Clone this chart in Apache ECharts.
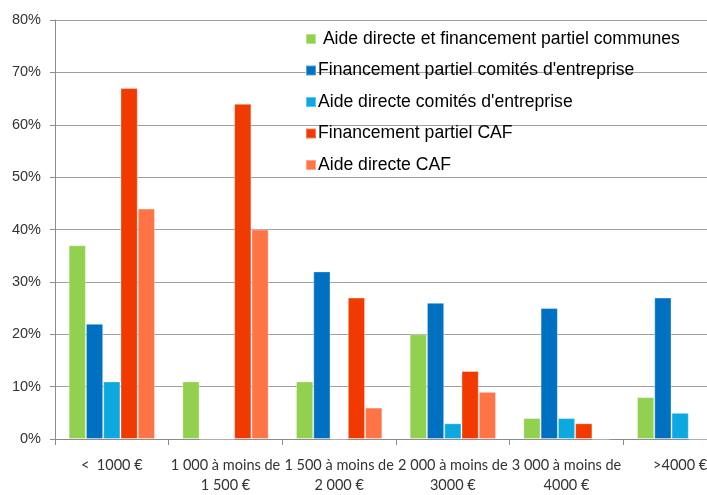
<!DOCTYPE html>
<html><head><meta charset="utf-8">
<script src="https://cdn.jsdelivr.net/npm/echarts@6/dist/echarts.min.js"></script>
<style>html,body{margin:0;padding:0;background:#fff;overflow:hidden}#c{width:737px;height:495px}</style>
</head><body><div id="c"></div>
<script>
const categories = ["<  1000 €", "1 000 à moins de\n1 500 €", "1 500 à moins de\n2 000 €", "2 000 à moins de\n3000 €", "3 000 à moins de\n4000 €", ">4000 €"];
const seriesNames = [" Aide directe et financement partiel communes", "Financement partiel comités d'entreprise", "Aide directe comités d'entreprise", "Financement partiel CAF", "Aide directe CAF"];
const communes = [37, 11, 11, 20, 4, 8];
const financementCE = [22, 0, 32, 26, 25, 27];
const aideCE = [11, 0, 0, 3, 4, 5];
const financementCAF = [67, 64, 27, 13, 3, 0];
const aideCAF = [44, 40, 6, 9, 0, 0];
const colors = ["#92D050", "#0070C0", "#0DA8E0", "#F03A00", "#FF7447"];
const values = [communes, financementCE, aideCE, financementCAF, aideCAF];

const chart = echarts.init(document.getElementById('c'));
chart.setOption({
  animation: false,
  color: colors,
  grid: {left: 55, width: 682, top: 20, height: 424, containLabel: false},
  legend: {
    orient: 'vertical', left: 300, top: 25, itemGap: 13.5,
    itemWidth: 10, itemHeight: 10, icon: 'rect',
    textStyle: {fontFamily: 'Liberation Sans', fontSize: 17.6, color: '#000', padding: [0,0,0,-3]},
    data: seriesNames
  },
  xAxis: {
    type: 'category', data: categories,
    axisLine: {lineStyle: {color: '#8C8C8C'}},
    axisTick: {show: true, length: 6, lineStyle: {color: '#8C8C8C'}},
    axisLabel: {interval: 0, fontFamily: 'Lato', fontSize: 14.5, color: '#333', margin: 16, lineHeight: 20}
  },
  yAxis: {
    type: 'value', min: 0, max: 80, interval: 10,
    axisLine: {show: true, lineStyle: {color: '#8C8C8C'}},
    axisTick: {show: true, length: 5, lineStyle: {color: '#8C8C8C'}},
    splitLine: {lineStyle: {color: '#A0A0A0'}},
    axisLabel: {formatter: '{value}%', fontFamily: 'Liberation Sans', fontSize: 14.5, color: '#333', margin: 14}
  },
  series: values.map((v, i) => ({
    name: seriesNames[i], type: 'bar', data: v,
    barGap: '0%', barCategoryGap: '24%',
    itemStyle: {color: colors[i], borderColor: 'rgba(255,255,255,0.35)', borderWidth: 1}
  }))
});
</script></body></html>
